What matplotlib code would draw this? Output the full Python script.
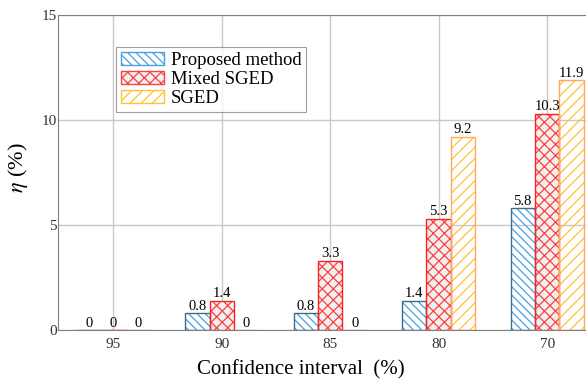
import matplotlib.pyplot as plt
import numpy as np

plt.rcParams['font.family'] = ['Liberation Serif', 'DejaVu Serif']
plt.rcParams['mathtext.fontset'] = 'stix'
plt.rcParams['hatch.linewidth'] = 0.9

levels = ['95', '90', '85', '80', '70']
proposed = [0, 0.8, 0.8, 1.4, 5.8]
mixed_sged = [0, 1.4, 3.3, 5.3, 10.3]
sged = [0, 0, 0, 9.2, 11.9]

series = [
    ('Proposed method', proposed, '\\\\\\\\', '#4a9ee0', '#3c6e88', 'none'),
    ('Mixed SGED', mixed_sged, 'xxx', '#ff4040', '#ff2020', '#f0f0f0'),
    ('SGED', sged, '///', '#ffc233', '#ffa860', 'none'),
]

fig = plt.figure(figsize=(5.86, 3.85), dpi=100)
ax = fig.add_axes([0.099, 0.143, 0.905, 0.818])

x = np.arange(1, len(levels) + 1)
w = 0.225
handles = []
for i, (name, vals, hatch, hc, ec, fc) in enumerate(series):
    pos = x + (i - 1) * w
    # hatch layer, then outline on top
    ax.bar(pos, vals, w, color=fc, edgecolor=hc, hatch=hatch, linewidth=0, zorder=3)
    ax.bar(pos, vals, w, color='none', edgecolor=ec, linewidth=1.0, zorder=4)
    for px, v in zip(pos, vals):
        ax.text(px, v + 0.02, f'{v:g}', ha='center', va='bottom', fontsize=10.5, zorder=5)
    handles.append(plt.Rectangle((0, 0), 1, 1, facecolor=fc, edgecolor=hc, hatch=hatch, linewidth=1.0))

ax.set_xlim(0.49, 5.38)
ax.set_ylim(0, 15)
ax.set_xticks(x)
ax.set_xticklabels(levels)
ax.set_yticks([0, 5, 10, 15])
ax.tick_params(axis='x', length=0, labelsize=11, colors='#333333', pad=6)
ax.tick_params(axis='y', length=0, labelsize=11, colors='#333333', pad=1)
ax.grid(True, color='#c8c8c8', linewidth=1.0, zorder=0)
for side in ['left', 'top', 'bottom']:
    ax.spines[side].set_color('#808080')
ax.spines['right'].set_visible(False)

ax.set_xlabel('Confidence interval  (%)', fontsize=15)
ax.xaxis.set_label_coords(0.457, -0.097)
ax.set_ylabel(r'$\eta$ (%)', fontsize=16)
ax.yaxis.set_label_coords(-0.053, 0.514)

leg = ax.legend(handles, [s[0] for s in series], loc='upper left',
                bbox_to_anchor=(0.109, 0.898), borderaxespad=0, fontsize=13.5,
                frameon=True, fancybox=False, edgecolor='#888888', handlelength=2.3,
                handleheight=0.7, labelspacing=0.1, borderpad=0.25, handletextpad=0.4)
leg.get_frame().set_linewidth(0.8)

fig.savefig('out.png', dpi=100)
